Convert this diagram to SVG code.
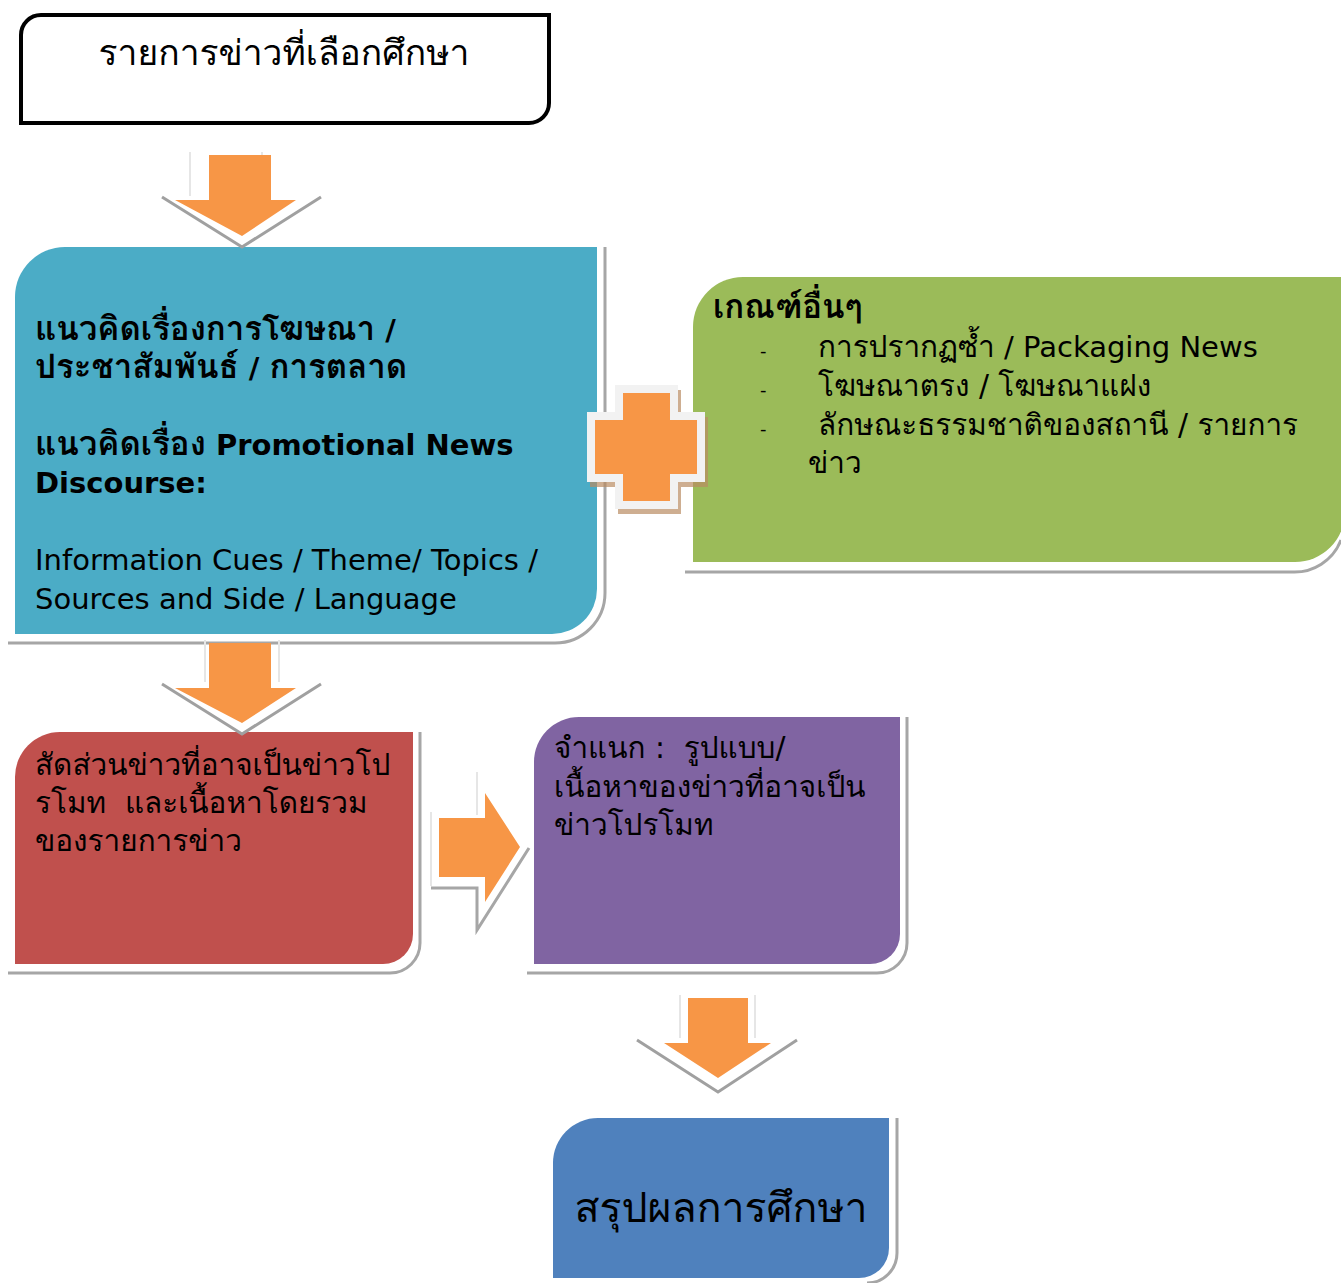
<svg xmlns="http://www.w3.org/2000/svg" width="1341" height="1283" viewBox="0 0 1341 1283">
<style>
text{font-family:"DejaVu Sans","Loma","Noto Sans Thai Looped","Noto Sans Thai","Noto Sans",sans-serif;fill:#000;white-space:pre}
.t{font-size:29px}
.th{font-size:29.7px}
.tb{font-size:33px}
.b{font-weight:bold}
.sh{fill:none;stroke:#a6a6a6;stroke-width:3}
.gl{fill:none;stroke:#e6e6e6;stroke-width:2}
.or{fill:#F79646}
.chev{fill:#fff;stroke:#a0a0a0;stroke-width:3;stroke-linejoin:miter}
</style>
<rect width="1341" height="1283" fill="#fff"/>

<g id="node-top">
  <path d="M21,35 A20,20 0 0 1 41,15 H549 V103 A20,20 0 0 1 529,123 H21 Z" fill="#fff" stroke="#000" stroke-width="4"/>
  <text x="284" y="65" font-size="35.4" text-anchor="middle">รายการข่าวที่เลือกศึกษา</text>
</g>

<g id="node-blue">
  <path class="sh" d="M8,643 H555 A50,50 0 0 0 605,593 V247"/>
  <path d="M15,297 A50,50 0 0 1 65,247 H597 V589 A45,45 0 0 1 552,634 H15 Z" fill="#4BACC6"/>
  <text class="t b" x="35" y="340"><tspan class="tb">แนวคิดเรื่องการโฆษณา</tspan> /</text>
  <text class="t b" x="35" y="378"><tspan class="tb">ประชาสัมพันธ์</tspan> / <tspan class="tb">การตลาด</tspan></text>
  <text class="t b" x="35" y="455"><tspan class="tb">แนวคิดเรื่อง</tspan> Promotional News</text>
  <text class="t b" x="35" y="493">Discourse:</text>
  <text class="t" x="35" y="570">Information Cues / Theme/ Topics /</text>
  <text class="t" x="35" y="609">Sources and Side / Language</text>
</g>

<g id="node-green">
  <path class="sh" d="M685,572 H1291 A50,50 0 0 0 1341,540"/>
  <path d="M693,327 A50,50 0 0 1 743,277 H1345 V512 A50,50 0 0 1 1295,562 H693 Z" fill="#9BBB59"/>
  <text class="tb b" x="713" y="318">เกณฑ์อื่นๆ</text>
  <text x="760" y="357" font-size="18">-</text>
  <text x="760" y="396" font-size="18">-</text>
  <text x="760" y="435" font-size="18">-</text>
  <text class="t" x="818" y="357"><tspan class="th">การปรากฏซ้ำ</tspan> / Packaging News</text>
  <text class="th" x="818" y="396">โฆษณาตรง / โฆษณาแฝง</text>
  <text class="th" x="818" y="435">ลักษณะธรรมชาติของสถานี / รายการ</text>
  <text class="th" x="808" y="473">ข่าว</text>
</g>

<g id="node-red">
  <path class="sh" d="M8,973 H390 A30,30 0 0 0 420,943 V732"/>
  <path d="M15,777 A45,45 0 0 1 60,732 H413 V934 A30,30 0 0 1 383,964 H15 Z" fill="#C0504D"/>
  <text class="th" x="35" y="775">สัดส่วนข่าวที่อาจเป็นข่าวโป</text>
  <text class="th" x="35" y="813" xml:space="preserve">รโมท  และเนื้อหาโดยรวม</text>
  <text class="th" x="35" y="851">ของรายการข่าว</text>
</g>

<g id="node-purple">
  <path class="sh" d="M527,973 H877 A30,30 0 0 0 907,943 V717"/>
  <path d="M534,762 A45,45 0 0 1 579,717 H900 V934 A30,30 0 0 1 870,964 H534 Z" fill="#8064A2"/>
  <text class="th" x="554" y="758" xml:space="preserve">จำแนก :  รูปแบบ/</text>
  <text class="th" x="554" y="797">เนื้อหาของข่าวที่อาจเป็น</text>
  <text class="th" x="554" y="835">ข่าวโปรโมท</text>
</g>

<g id="node-bottom">
  <path class="sh" d="M897,1118 V1253 A30,30 0 0 1 867,1283"/>
  <path d="M553,1163 A45,45 0 0 1 598,1118 H889 V1248 A30,30 0 0 1 859,1278 H553 Z" fill="#4F81BD"/>
  <text x="721" y="1222" font-size="41" text-anchor="middle">สรุปผลการศึกษา</text>
</g>

<g id="connectors">
  <g id="arrow1">
    <line class="gl" x1="190" y1="152" x2="190" y2="196"/>
    <line class="gl" x1="262" y1="152" x2="262" y2="196"/>
    <polyline class="chev" points="162,197 242,247 321,197"/>
    <polygon class="or" points="209,155 271,155 271,200 296,200 242,236 175,200 209,200"/>
  </g>
  <g id="arrow2">
    <line class="gl" x1="205" y1="640" x2="205" y2="682"/>
    <line class="gl" x1="279" y1="640" x2="279" y2="682"/>
    <polyline class="chev" points="162,684 242,734 321,684"/>
    <polygon class="or" points="209,643 271,643 271,688 296,688 242,723 175,688 209,688"/>
  </g>
  <g id="arrow3">
    <line class="gl" x1="680" y1="995" x2="680" y2="1038"/>
    <line class="gl" x1="755" y1="995" x2="755" y2="1038"/>
    <polyline class="chev" points="637,1040 718,1092 797,1040"/>
    <polygon class="or" points="688,998 748,998 748,1043 771,1043 718,1078 664,1043 688,1043"/>
  </g>
  <g id="arrow4">
    <line class="gl" x1="477" y1="772" x2="477" y2="815"/>
    <line class="gl" x1="431" y1="812" x2="431" y2="886"/>
    <polyline fill="none" stroke="#a6a6a6" stroke-width="3" points="431,888 477,888 477,930 529,848"/>
    <polygon class="or" points="439,818 485,818 485,793 520,847 485,902 485,877 439,877"/>
  </g>
  <g id="plus">
    <polygon fill="#b98c63" fill-opacity="0.7" points="618,390 681,390 681,417 708,417 708,487 681,487 681,514 618,514 618,487 590,487 590,417 618,417"/>
    <polygon fill="#f2f2f2" points="615,385 678,385 678,412 705,412 705,482 678,482 678,509 615,509 615,482 587,482 587,412 615,412"/>
    <polygon class="or" points="623,393 670,393 670,420 697,420 697,474 670,474 670,501 623,501 623,474 595,474 595,420 623,420"/>
  </g>
</g>
</svg>
